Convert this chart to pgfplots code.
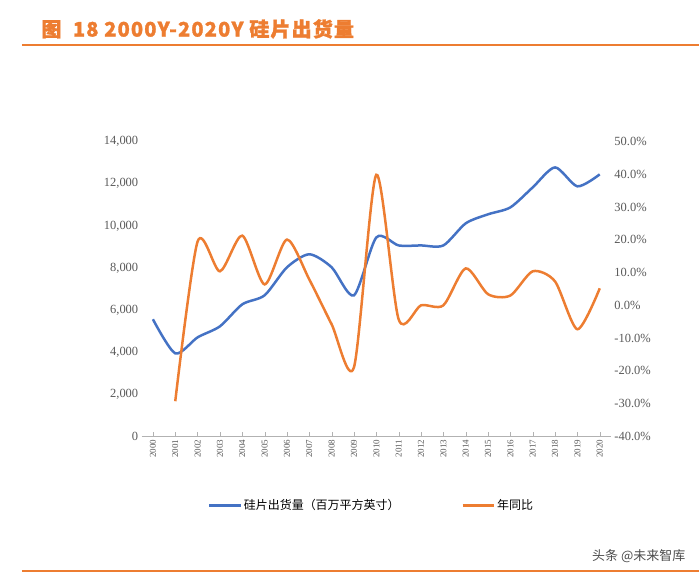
\documentclass[border=0pt]{standalone}
\usepackage{pgfplots}
\pgfplotsset{compat=1.18}
\usepackage{fontspec}
\setmainfont{Liberation Serif}
\newfontfamily\cjk{Noto Sans CJK SC}
\newfontfamily\cjkb{Noto Sans CJK SC}[FakeBold=1.5,LetterSpace=6]
\definecolor{obar}{HTML}{ED7D31}
\definecolor{bl}{HTML}{4472C4}
\definecolor{tc}{HTML}{595959}
\begin{document}
\begin{tikzpicture}
\path (0pt,0pt) rectangle (700pt,577pt);
\node[anchor=west,text=obar,font=\cjkb\bfseries\fontsize{20}{24}\selectfont] at (38pt,548pt) {图\ \ 18 2000Y-2020Y 硅片出货量};
\draw[obar,line width=2.5pt] (22pt,532pt) -- (700pt,532pt);
\draw[obar,line width=1.5pt] (22pt,5pt) -- (700pt,5pt);
\node[anchor=east,font=\cjk\fontsize{13}{15}\selectfont,text=black!70] at (690pt,20pt) {头条 @未来智库};
\pgfplotsset{every axis/.append style={scale only axis,width=470pt,height=295pt,at={(142pt,140pt)},anchor=south west,
  xmin=1999.5,xmax=2020.5,
  tick label style={font=\fontsize{12.5}{14}\selectfont,text=tc},
  /pgf/number format/assume math mode=true}}
\begin{axis}[
  axis x line*=bottom, axis y line*=left, y axis line style={draw=none},
  x axis line style={draw=gray!60},
  ymin=0,ymax=14000,ytick={0,2000,...,14000},
  yticklabel style={/pgf/number format/fixed,/pgf/number format/1000 sep={,}},
  scaled y ticks=false,
  xtick={2000,...,2020}, xticklabel style={rotate=90,anchor=east,font=\fontsize{9}{10}\selectfont,/pgf/number format/1000 sep={}},
  major tick length=4pt, xtick style={draw=gray!60}, ytick style={draw=none}]
\addplot[bl,line width=2.5pt,smooth,tension=0.45] coordinates {
(2000,5560)(2001,3940)(2002,4700)(2003,5225)(2004,6270)(2005,6700)(2006,8030)(2007,8650)(2008,8030)(2009,6700)(2010,9450)(2011,9070)(2012,9070)(2013,9070)(2014,10120)(2015,10550)(2016,10880)(2017,11830)(2018,12780)(2019,11880)(2020,12450)};
\end{axis}
\begin{axis}[
  axis x line=none, axis y line*=right, y axis line style={draw=none},
  ymin=-40,ymax=50,ytick={-40,-30,...,50}, ytick style={draw=none},
  yticklabel={\pgfmathprintnumber[fixed,fixed zerofill,precision=1]{\tick}\%},
  legend style={at={(0.49,-0.235)},anchor=center,draw=none,legend columns=2,font=\cjk\fontsize{12}{14}\selectfont,/tikz/every even column/.append style={column sep=60pt}},
  legend image code/.code={\draw[#1,line width=2.5pt] (0,0) -- (1.1cm,0);}]
\addlegendimage{bl}
\addlegendentry{硅片出货量（百万平方英寸）}
\addplot[obar,line width=2.5pt,smooth,tension=0.45] coordinates {
(2001,-29.3)(2002,19.5)(2003,10.4)(2004,21.3)(2005,6.4)(2006,20.1)(2007,7.9)(2008,-5.8)(2009,-18.9)(2010,39.9)(2011,-4.3)(2012,0)(2013,0)(2014,11.3)(2015,3.4)(2016,3.0)(2017,10.4)(2018,7.3)(2019,-7.3)(2020,5.2)};
\addlegendentry{年同比}
\end{axis}
\end{tikzpicture}
\end{document}
